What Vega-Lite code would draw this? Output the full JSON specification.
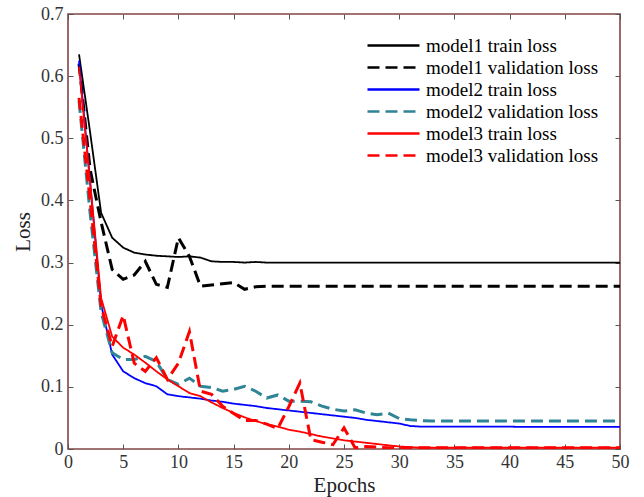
{
  "$schema": "https://vega.github.io/schema/vega-lite/v6.json",
  "width": 552,
  "height": 435,
  "autosize": "none",
  "padding": {"left": 68, "top": 14, "right": 24, "bottom": 48},
  "background": "white",
  "config": {
    "font": "Liberation Serif",
    "view": {"stroke": "#834545", "strokeWidth": 1.6},
    "legend": {
      "orient": "none",
      "legendX": 314,
      "legendY": 20,
      "padding": 0,
      "title": null,
      "symbolType": "M-2.6,0H2.6",
      "symbolSize": 400,
      "symbolStrokeWidth": 2.5,
      "labelFont": "Liberation Serif",
      "labelFontSize": 19,
      "labelColor": "#000000",
      "labelOffset": 21,
      "labelLimit": 400,
      "rowPadding": -0.3
    }
  },
  "data": {
    "values": [
      {"epoch": 1, "m1t": 0.635, "m1v": 0.62, "m2t": 0.625, "m2v": 0.56, "m3t": 0.615, "m3v": 0.565},
      {"epoch": 2, "m1t": 0.51, "m1v": 0.45, "m2t": 0.43, "m2v": 0.38, "m3t": 0.43, "m3v": 0.40},
      {"epoch": 3, "m1t": 0.38, "m1v": 0.365, "m2t": 0.233, "m2v": 0.22, "m3t": 0.243, "m3v": 0.23},
      {"epoch": 4, "m1t": 0.34, "m1v": 0.289, "m2t": 0.152, "m2v": 0.155, "m3t": 0.181, "m3v": 0.165},
      {"epoch": 5, "m1t": 0.324, "m1v": 0.273, "m2t": 0.125, "m2v": 0.144, "m3t": 0.163, "m3v": 0.215},
      {"epoch": 6, "m1t": 0.316, "m1v": 0.28, "m2t": 0.114, "m2v": 0.144, "m3t": 0.152, "m3v": 0.138},
      {"epoch": 7, "m1t": 0.313, "m1v": 0.302, "m2t": 0.106, "m2v": 0.149, "m3t": 0.139, "m3v": 0.125},
      {"epoch": 8, "m1t": 0.311, "m1v": 0.265, "m2t": 0.101, "m2v": 0.141, "m3t": 0.125, "m3v": 0.147},
      {"epoch": 9, "m1t": 0.310, "m1v": 0.26, "m2t": 0.088, "m2v": 0.112, "m3t": 0.112, "m3v": 0.112},
      {"epoch": 10, "m1t": 0.309, "m1v": 0.34, "m2t": 0.085, "m2v": 0.104, "m3t": 0.101, "m3v": 0.138},
      {"epoch": 11, "m1t": 0.310, "m1v": 0.31, "m2t": 0.083, "m2v": 0.114, "m3t": 0.090, "m3v": 0.189},
      {"epoch": 12, "m1t": 0.308, "m1v": 0.262, "m2t": 0.081, "m2v": 0.101, "m3t": 0.085, "m3v": 0.093},
      {"epoch": 13, "m1t": 0.302, "m1v": 0.264, "m2t": 0.078, "m2v": 0.099, "m3t": 0.075, "m3v": 0.088},
      {"epoch": 14, "m1t": 0.301, "m1v": 0.266, "m2t": 0.076, "m2v": 0.093, "m3t": 0.066, "m3v": 0.069},
      {"epoch": 15, "m1t": 0.301, "m1v": 0.268, "m2t": 0.073, "m2v": 0.096, "m3t": 0.058, "m3v": 0.057},
      {"epoch": 16, "m1t": 0.300, "m1v": 0.257, "m2t": 0.071, "m2v": 0.101, "m3t": 0.051, "m3v": 0.046},
      {"epoch": 17, "m1t": 0.301, "m1v": 0.261, "m2t": 0.069, "m2v": 0.093, "m3t": 0.045, "m3v": 0.046},
      {"epoch": 18, "m1t": 0.300, "m1v": 0.262, "m2t": 0.066, "m2v": 0.082, "m3t": 0.040, "m3v": 0.040},
      {"epoch": 19, "m1t": 0.300, "m1v": 0.262, "m2t": 0.064, "m2v": 0.087, "m3t": 0.036, "m3v": 0.033},
      {"epoch": 20, "m1t": 0.300, "m1v": 0.262, "m2t": 0.062, "m2v": 0.077, "m3t": 0.031, "m3v": 0.068},
      {"epoch": 21, "m1t": 0.300, "m1v": 0.262, "m2t": 0.060, "m2v": 0.077, "m3t": 0.028, "m3v": 0.106},
      {"epoch": 22, "m1t": 0.300, "m1v": 0.262, "m2t": 0.058, "m2v": 0.076, "m3t": 0.024, "m3v": 0.015},
      {"epoch": 23, "m1t": 0.300, "m1v": 0.262, "m2t": 0.056, "m2v": 0.069, "m3t": 0.020, "m3v": 0.011},
      {"epoch": 24, "m1t": 0.300, "m1v": 0.262, "m2t": 0.054, "m2v": 0.064, "m3t": 0.017, "m3v": 0.007},
      {"epoch": 25, "m1t": 0.300, "m1v": 0.262, "m2t": 0.052, "m2v": 0.061, "m3t": 0.014, "m3v": 0.034},
      {"epoch": 26, "m1t": 0.300, "m1v": 0.262, "m2t": 0.050, "m2v": 0.063, "m3t": 0.012, "m3v": 0.002},
      {"epoch": 27, "m1t": 0.300, "m1v": 0.262, "m2t": 0.047, "m2v": 0.058, "m3t": 0.010, "m3v": 0.004},
      {"epoch": 28, "m1t": 0.300, "m1v": 0.262, "m2t": 0.045, "m2v": 0.055, "m3t": 0.008, "m3v": 0.003},
      {"epoch": 29, "m1t": 0.300, "m1v": 0.262, "m2t": 0.043, "m2v": 0.058, "m3t": 0.006, "m3v": 0.002},
      {"epoch": 30, "m1t": 0.300, "m1v": 0.262, "m2t": 0.041, "m2v": 0.049, "m3t": 0.004, "m3v": 0.002},
      {"epoch": 31, "m1t": 0.300, "m1v": 0.262, "m2t": 0.037, "m2v": 0.047, "m3t": 0.003, "m3v": 0.002},
      {"epoch": 32, "m1t": 0.300, "m1v": 0.262, "m2t": 0.036, "m2v": 0.0455, "m3t": 0.002, "m3v": 0.002},
      {"epoch": 33, "m1t": 0.300, "m1v": 0.262, "m2t": 0.036, "m2v": 0.045, "m3t": 0.002, "m3v": 0.002},
      {"epoch": 34, "m1t": 0.300, "m1v": 0.262, "m2t": 0.036, "m2v": 0.045, "m3t": 0.002, "m3v": 0.002},
      {"epoch": 35, "m1t": 0.300, "m1v": 0.262, "m2t": 0.036, "m2v": 0.045, "m3t": 0.002, "m3v": 0.002},
      {"epoch": 36, "m1t": 0.300, "m1v": 0.262, "m2t": 0.036, "m2v": 0.045, "m3t": 0.002, "m3v": 0.002},
      {"epoch": 37, "m1t": 0.300, "m1v": 0.262, "m2t": 0.036, "m2v": 0.045, "m3t": 0.002, "m3v": 0.002},
      {"epoch": 38, "m1t": 0.300, "m1v": 0.262, "m2t": 0.036, "m2v": 0.045, "m3t": 0.002, "m3v": 0.002},
      {"epoch": 39, "m1t": 0.300, "m1v": 0.262, "m2t": 0.036, "m2v": 0.045, "m3t": 0.002, "m3v": 0.002},
      {"epoch": 40, "m1t": 0.300, "m1v": 0.262, "m2t": 0.036, "m2v": 0.045, "m3t": 0.002, "m3v": 0.002},
      {"epoch": 41, "m1t": 0.300, "m1v": 0.262, "m2t": 0.0355, "m2v": 0.045, "m3t": 0.002, "m3v": 0.002},
      {"epoch": 42, "m1t": 0.300, "m1v": 0.262, "m2t": 0.0355, "m2v": 0.045, "m3t": 0.002, "m3v": 0.002},
      {"epoch": 43, "m1t": 0.300, "m1v": 0.262, "m2t": 0.0355, "m2v": 0.045, "m3t": 0.002, "m3v": 0.002},
      {"epoch": 44, "m1t": 0.300, "m1v": 0.262, "m2t": 0.0355, "m2v": 0.045, "m3t": 0.002, "m3v": 0.002},
      {"epoch": 45, "m1t": 0.300, "m1v": 0.262, "m2t": 0.0355, "m2v": 0.045, "m3t": 0.002, "m3v": 0.002},
      {"epoch": 46, "m1t": 0.300, "m1v": 0.262, "m2t": 0.0355, "m2v": 0.045, "m3t": 0.002, "m3v": 0.002},
      {"epoch": 47, "m1t": 0.300, "m1v": 0.262, "m2t": 0.0355, "m2v": 0.045, "m3t": 0.002, "m3v": 0.002},
      {"epoch": 48, "m1t": 0.300, "m1v": 0.262, "m2t": 0.0355, "m2v": 0.045, "m3t": 0.002, "m3v": 0.002},
      {"epoch": 49, "m1t": 0.300, "m1v": 0.262, "m2t": 0.0355, "m2v": 0.045, "m3t": 0.002, "m3v": 0.002},
      {"epoch": 50, "m1t": 0.300, "m1v": 0.262, "m2t": 0.0355, "m2v": 0.045, "m3t": 0.002, "m3v": 0.002}
    ]
  },
  "transform": [
    {"fold": ["m1t", "m1v", "m2t", "m2v", "m3t", "m3v"], "as": ["series", "loss"]}
  ],
  "layer": [
    {
      "mark": {"type": "line", "clip": true, "strokeJoin": "miter"},
      "encoding": {
        "x": {
          "field": "epoch", "type": "quantitative",
          "scale": {"domain": [0, 50], "nice": false, "zero": false},
          "axis": {
            "orient": "bottom", "title": "Epochs", "values": [0, 5, 10, 15, 20, 25, 30, 35, 40, 45, 50],
            "grid": false, "domain": false, "tickSize": -5, "tickColor": "#555555", "tickWidth": 1,
            "labelFont": "Liberation Serif", "labelFontSize": 18, "labelColor": "#333333", "labelPadding": 9,
            "labelFlush": false,
            "titleFont": "Liberation Serif", "titleFontSize": 21, "titleFontWeight": "normal", "titleColor": "#222222", "titlePadding": 3
          }
        },
        "y": {
          "field": "loss", "type": "quantitative",
          "scale": {"domain": [0, 0.7], "nice": false},
          "axis": {
            "orient": "left", "title": "Loss", "values": [0, 0.1, 0.2, 0.3, 0.4, 0.5, 0.6, 0.7],
            "labelExpr": "datum.value == 0 ? '0' : format(datum.value, '.1f')",
            "grid": false, "domain": false, "tickSize": -5, "tickColor": "#555555", "tickWidth": 1,
            "labelFont": "Liberation Serif", "labelFontSize": 18, "labelColor": "#333333", "labelPadding": 10,
            "labelFlush": false,
            "titleFont": "Liberation Serif", "titleFontSize": 21, "titleFontWeight": "normal", "titleColor": "#222222", "titlePadding": 7
          }
        },
        "color": {
          "field": "series", "type": "nominal",
          "scale": {"domain": ["m1t", "m1v", "m2t", "m2v", "m3t", "m3v"], "range": ["#000000", "#000000", "#0000ff", "#2f8496", "#ff0000", "#ff0000"]},
          "legend": {"labelLimit": 400, "labelExpr": "datum.label == 'm1t' ? 'model1 train loss' : datum.label == 'm1v' ? 'model1 validation loss' : datum.label == 'm2t' ? 'model2 train loss' : datum.label == 'm2v' ? 'model2 validation loss' : datum.label == 'm3t' ? 'model3 train loss' : 'model3 validation loss'"}
        },
        "strokeDash": {
          "field": "series", "type": "nominal",
          "scale": {"domain": ["m1t", "m1v", "m2t", "m2v", "m3t", "m3v"], "range": [[1, 0], [12, 6], [1, 0], [12, 6], [1, 0], [12, 6]]},
          "legend": {"labelLimit": 400, "labelExpr": "datum.label == 'm1t' ? 'model1 train loss' : datum.label == 'm1v' ? 'model1 validation loss' : datum.label == 'm2t' ? 'model2 train loss' : datum.label == 'm2v' ? 'model2 validation loss' : datum.label == 'm3t' ? 'model3 train loss' : 'model3 validation loss'"}
        },
        "strokeWidth": {
          "condition": {"test": "datum.series == 'm1v' || datum.series == 'm2v' || datum.series == 'm3v'", "value": 3},
          "value": 1.8
        }
      }
    },
    {
      "mark": {"type": "line", "opacity": 0},
      "encoding": {
        "x": {
          "field": "epoch", "type": "quantitative",
          "axis": {"orient": "top", "title": null, "labels": false, "values": [0, 5, 10, 15, 20, 25, 30, 35, 40, 45, 50], "grid": false, "domain": false, "tickSize": -5, "tickColor": "#555555", "tickWidth": 1}
        },
        "y": {
          "field": "loss", "type": "quantitative",
          "axis": {"orient": "right", "title": null, "labels": false, "values": [0, 0.1, 0.2, 0.3, 0.4, 0.5, 0.6, 0.7], "grid": false, "domain": false, "tickSize": -5, "tickColor": "#555555", "tickWidth": 1}
        },
        "detail": {"field": "series", "type": "nominal"}
      }
    }
  ],
  "resolve": {"axis": {"x": "independent", "y": "independent"}}
}
